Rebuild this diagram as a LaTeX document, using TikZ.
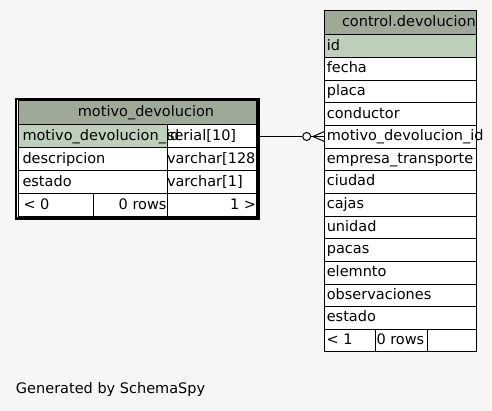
\documentclass[tikz,border=0pt]{standalone}
\usepackage{fontspec}
\setmainfont{DejaVu Sans}
\usetikzlibrary{calc}
\definecolor{bg}{HTML}{F6F6F6}
\definecolor{hdr}{HTML}{9EAA97}
\definecolor{pk}{HTML}{BFD0BA}
\begin{document}
\begin{tikzpicture}[x=1pt,y=-1pt,
  font=\fontsize{14.5}{17}\selectfont,
  cell/.style={draw=black, line width=1pt, fill=white, inner sep=0pt, outer sep=0pt, anchor=north west},
  txt/.style={inner sep=0pt, outer sep=0pt, text height=10.5pt, text depth=3pt},
  conn/.style={draw=black, line width=1pt}]
\fill[bg] (0,0) rectangle (492,411);
\useasboundingbox (0,0) rectangle (492,411);

% ---------- left table: motivo_devolucion ----------
\fill[black] (15,98) rectangle (260,220.5);
\fill[white] (17,100.5) rectangle (257,217);
\node[cell, fill=hdr, minimum width=238, minimum height=24] (Lh) at (18.5,101) {};
\node[cell, fill=pk, minimum width=148.5, minimum height=23] (Ln1) at (18.5,125) {};
\node[cell, minimum width=89.5, minimum height=23] (Lt1) at (167,125) {};
\node[cell, minimum width=148.5, minimum height=23] (Ln2) at (18.5,148) {};
\node[cell, minimum width=89.5, minimum height=23] (Lt2) at (167,148) {};
\node[cell, minimum width=148.5, minimum height=23] (Ln3) at (18.5,171) {};
\node[cell, minimum width=89.5, minimum height=23] (Lt3) at (167,171) {};
\node[cell, minimum width=74.5, minimum height=22.2] (Lf1) at (18.5,194) {};
\node[cell, minimum width=74, minimum height=22.2] (Lf2) at (93,194) {};
\node[cell, minimum width=89.5, minimum height=22.2] (Lf3) at (167,194) {};

\node[txt] (Lht) at (146,113) {motivo\_devolucion};
\node[txt, anchor=west] (Ln1t) at (22.5,136.5) {motivo\_devolucion\_id};
\node[txt, anchor=west] (Lt1t) at (167,136.5) {serial[10]};
\node[txt, anchor=west] (Ln2t) at (22.5,159.5) {descripcion};
\node[txt, anchor=west] (Lt2t) at (167,159.5) {varchar[128]};
\node[txt, anchor=west] (Ln3t) at (22.5,182.5) {estado};
\node[txt, anchor=west] (Lt3t) at (167,182.5) {varchar[1]};
\node[txt, anchor=west] (Lf1t) at (23.5,205.3) {< 0};
\node[txt, anchor=east] (Lf2t) at (166.5,205.3) {0 rows};
\node[txt, anchor=east] (Lf3t) at (256,205.3) {1 >};
% thick frame on top (right and bottom)
\fill[black] (256,98) rectangle (260,220.5);
\fill[black] (15,217) rectangle (260,220.5);

% ---------- right table: control.devolucion ----------
\node[cell, fill=hdr, minimum width=152.5, minimum height=24] (Rh) at (324,11) {};
\foreach \i/\fc in {0/pk,1/white,2/white,3/white,4/white,5/white,6/white,7/white,8/white,9/white,10/white,11/white,12/white}{
  \node[cell, fill=\fc, minimum width=152.5, minimum height=22.65] (R\i) at ($(324,35)+(0,22.65*\i)$) {};
}
\node[cell, minimum width=51.7, minimum height=22.25] (Rf1) at (324,329.45) {};
\node[cell, minimum width=52, minimum height=22.25] (Rf2) at (375.7,329.45) {};
\node[cell, minimum width=48.8, minimum height=22.25] (Rf3) at (427.7,329.45) {};

\node[txt, anchor=west] (Rht) at (342,23) {control.devolucion};
\foreach \i/\t in {0/id,1/fecha,2/placa,3/conductor,4/motivo\_devolucion\_id,5/empresa\_transporte,6/ciudad,7/cajas,8/unidad,9/pacas,10/elemnto,11/observaciones,12/estado}{
  \node[txt, anchor=west] (R\i t) at (R\i.west) [xshift=2.8pt] {\t};
}
\node[txt, anchor=west] (Rf1t) at (326.5,340.6) {< 1};
\node[txt, anchor=west] (Rf2t) at (376.5,340.6) {0 rows};

% ---------- connector ----------
\node[circle, draw=black, line width=1pt, fill=bg, minimum size=8pt, inner sep=0pt] (odot) at (306.7,136.5) {};
\coordinate (apex) at (313,136.5);
\coordinate (fkend) at (odot.east -| R4.west);
\draw[conn] (Lt1.east) -- (odot.west);
\draw[conn] (odot.east) -- (fkend);
\draw[conn] (apex) -- ($(fkend)+(0,-4.8)$);
\draw[conn] (apex) -- ($(fkend)+(0,4.8)$);

% ---------- caption ----------
\node[txt, anchor=west] (cap) at (16,389.5) {Generated by SchemaSpy};
\end{tikzpicture}
\end{document}
